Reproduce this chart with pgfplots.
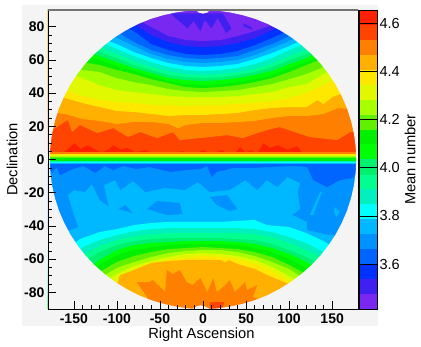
\documentclass[border=0pt]{standalone}
\usepackage{fontspec}
\setmainfont{Liberation Sans}
\usepackage{pgfplots}
\pgfplotsset{compat=1.18}

% palette, top of the colour bar first
\definecolor{c1}{HTML}{FF2000}
\definecolor{c2}{HTML}{FF4400}
\definecolor{c3}{HTML}{FF8000}
\definecolor{c4}{HTML}{FFB000}
\definecolor{c5}{HTML}{FFE800}
\definecolor{c6}{HTML}{E0F800}
\definecolor{c7}{HTML}{A8FF00}
\definecolor{c8}{HTML}{60F000}
\definecolor{c9}{HTML}{00F000}
\definecolor{c10}{HTML}{00FF00}
\definecolor{c11}{HTML}{00F070}
\definecolor{c12}{HTML}{00FF90}
\definecolor{c13}{HTML}{00F0C0}
\definecolor{c14}{HTML}{00FFFF}
\definecolor{c15}{HTML}{00B8FF}
\definecolor{c16}{HTML}{0092FF}
\definecolor{c17}{HTML}{0064FF}
\definecolor{c18}{HTML}{0032FF}
\definecolor{c19}{HTML}{4020F0}
\definecolor{c20}{HTML}{7828F0}
\definecolor{bgc}{HTML}{F4F4F4}

\newcommand{\band}[2]{\addplot[fill=#1,draw=none] coordinates {#2};}

\begin{document}
\begin{tikzpicture}
\path[use as bounding box] (0pt,0pt) rectangle (421pt,347pt);
\fill[bgc] (22pt,21pt) rectangle (378pt,342pt);

\begin{axis}[
    at={(48pt,38pt)}, anchor=south west,
    scale only axis, width=310pt, height=299pt,
    xmin=-180, xmax=180, ymin=-90, ymax=90,
    xtick={-150,-100,...,150}, ytick={-80,-60,...,80},
    minor x tick num=4, minor y tick num=3,
    xtick pos=bottom, ytick pos=left,
    tick align=inside,
    major tick length=8pt, minor tick length=4pt,
    tick style={black, line width=0.6pt},
    axis on top,
    axis line style={line width=0.7pt},
    /pgf/number format/assume math mode=true,
    ticklabel style={font=\fontsize{14}{16}\bfseries\selectfont},
    xticklabel style={yshift=-1.5pt},
    label style={font=\fontsize{14.7}{17}\selectfont},
    xlabel={Right Ascension},
    ylabel={Declination},
    xlabel style={at={(axis description cs:0.495,-0.087)},anchor=center},
    ylabel style={at={(axis description cs:-0.116,0.5)},anchor=center},
]
% northern sky, painted from the equator up
\band{c1}{(-180,3)(180,3)(180,90)(-180,90)}
\band{c2}{(-180,3.5)(-165,3.5)(-158,6)(-149,10)(-142,6.5)(-134,8.7)(-125,6)(-118,4.5)(-110,6)(-104,8.7)(-96,6)(-88,7)(-78,4.5)(-67,5.7)(-55,3.5)(-40,3.5)(-24,5.1)(-15,3.5)(-8,4)(0,5.7)(10,3.5)(22,5.7)(30,3.5)(37,4)(43,7.5)(50,4.5)(55,5.7)(63,4)(70,9.9)(78,7)(87,8.7)(98,6)(110,8)(116,3.5)(180,3.5)(180,90)(-180,90)}
\band{c3}{(-180,17)(-175,17.7)(-157,23.8)(-152,16.5)(-143,20.8)(-123,15.9)(-104,18.9)(-87,13.5)(-73,16.5)(-53,12.9)(-35,16.5)(-27,11.7)(8,13.5)(28,14.7)(46,12.9)(74,17.7)(89,19.5)(124,13.5)(156,11.7)(171,16.5)(180,16.5)(180,90)(-180,90)}
\band{c4}{(-180,28.6)(-160,27.4)(-140,24.4)(-120,23.2)(-100,21.4)(-80,22.6)(-60,22.6)(-40,21.4)(-29,18.9)(-20,20.8)(0,22)(20,22)(40,22.6)(60,23.2)(80,25)(100,26.2)(120,26.2)(140,27.4)(157,31)(180,29.8)(180,90)(-180,90)}
\band{c5}{(-180,40.6)(-160,37)(-140,34)(-120,31.6)(-100,29.2)(-80,28.6)(-60,27.4)(-40,26.2)(-20,26.8)(0,26.8)(20,27.4)(40,28)(60,29.8)(80,31)(100,31.6)(120,31.6)(133,35.8)(140,33.4)(150,37.6)(160,39.4)(180,41.8)(180,90)(-180,90)}
\band{c6}{(-180,47.8)(-160,41.8)(-140,38.2)(-120,35.8)(-100,34.6)(-80,34)(-60,32.8)(-40,32.8)(-20,32.2)(0,32.8)(20,32.8)(40,33.4)(60,34)(80,35.2)(100,37)(120,40)(140,44.8)(160,50.2)(180,53.9)(180,90)(-180,90)}
\band{c7}{(-160,52.7)(-140,49)(-120,44.8)(-100,41.8)(-80,40.6)(-60,39.4)(-40,38.2)(-20,37.6)(0,37.6)(20,37.6)(40,38.2)(60,39.4)(80,40.6)(100,43.6)(120,45.4)(140,51.5)(160,56.9)(180,90)(-180,90)}
\band{c8}{(-160,56.9)(-140,53.9)(-120,52.7)(-100,49)(-80,46.6)(-60,44.8)(-40,42.4)(-20,41.2)(0,40.6)(20,41.2)(40,41.8)(60,43.6)(80,45.4)(100,48.4)(120,51.5)(140,55.7)(160,61.1)(180,90)(-180,90)}
\band{c9}{(-140,58.7)(-120,56.9)(-100,53.9)(-80,51.5)(-60,48.4)(-40,46)(-20,43.6)(0,43)(20,43.6)(40,44.8)(60,46.6)(80,49)(100,52.7)(120,56.9)(140,61.1)(160,65.9)(180,90)(-180,90)}
\band{c10}{(-140,62.3)(-120,59.9)(-100,56.3)(-80,53.3)(-60,50.2)(-40,47.2)(-20,45.4)(0,44.8)(20,45.4)(40,46.6)(60,48.4)(80,50.9)(100,55.1)(120,58.7)(140,63.5)(180,90)(-180,90)}
\band{c11}{(-140,65.9)(-120,62.3)(-100,58.7)(-80,55.1)(-60,52.1)(-40,49)(-20,47.8)(0,47.2)(20,47.8)(40,49)(60,50.9)(80,53.3)(100,57.5)(120,61.1)(140,66.5)(180,90)(-180,90)}
\band{c12}{(-160,68.9)(-140,68.9)(-120,64.7)(-100,61.1)(-80,56.9)(-60,53.9)(-40,50.9)(-20,49.6)(0,49)(20,49.6)(40,50.9)(60,52.7)(80,55.7)(100,59.9)(120,63.5)(140,68.9)(180,90)(-180,90)}
\band{c13}{(-140,68.9)(-120,67.7)(-100,63.5)(-80,59.3)(-60,55.7)(-40,53.3)(-20,51.5)(0,50.9)(20,51.5)(40,52.7)(60,54.5)(80,58.1)(100,62.3)(120,66.5)(140,70.7)(180,90)(-180,90)}
\band{c14}{(-140,77.9)(-120,71.3)(-100,66.5)(-80,62.3)(-60,58.7)(-40,55.7)(-20,53.9)(0,53.3)(20,53.9)(40,55.1)(60,57.5)(80,61.1)(100,65.9)(120,70.1)(180,90)(-180,90)}
\band{c15}{(-120,73.7)(-100,69.5)(-80,64.7)(-60,61.1)(-40,58.1)(-20,56.3)(0,55.7)(20,56.3)(40,57.5)(60,60.5)(80,64.1)(100,68.3)(120,73.1)(180,90)(-180,90)}
\band{c16}{(-120,77.9)(-100,73.1)(-80,68.3)(-60,63.5)(-40,60.5)(-20,58.7)(0,58.1)(20,58.7)(40,59.9)(60,62.9)(80,67.1)(100,71.3)(120,76.1)(180,90)(-180,90)}
\band{c17}{(-120,82.8)(-100,76.7)(-80,70.7)(-60,65.9)(-40,62.9)(-20,61.1)(0,60.5)(20,61.1)(40,62.3)(60,65.9)(80,69.5)(100,74.3)(120,79.1)(180,90)(-180,90)}
\band{c18}{(-100,81.6)(-80,77.3)(-60,69.5)(-40,65.9)(-20,63.5)(0,62.9)(20,63.5)(40,65.3)(60,68.9)(80,73.1)(100,77.9)(120,82.8)(180,90)(-180,90)}
\band{c19}{(-80,81.6)(-60,74.9)(-40,70.7)(-20,68.3)(0,67.7)(20,68.3)(40,70.1)(60,73.1)(80,77.9)(100,82.8)(180,90)(-180,90)}
\band{c20}{(-80,85.2)(-60,79.7)(-40,74.3)(-20,71.9)(0,71.3)(20,71.9)(40,74.3)(60,77.3)(80,81)(100,85.8)(180,90)(-180,90)}
% darker streaks around the pole
\band{c19}{(-38,88)(-18,79)(-11,83.4)(-3,77.3)(2,84)(10,79)(17,85.2)(27,76.1)(33,79)(23,88)}
\band{c19}{(46,82)(55,80)(58,78)(48,80)}

% southern sky, painted from the equator down
\band{c15}{(-180,-3)(180,-3)(180,-90)(-180,-90)}
\band{c16}{(-180,-42.5)(-154,-42.5)(-145,-40.7)(-150,-33.4)(-157,-21.4)(-150,-18.4)(-137,-19.6)(-129,-14.8)(-120,-24.4)(-110,-28)(-115,-15.4)(-102,-12.4)(-96,-18.4)(-81,-13)(-67,-19.6)(-44,-17.2)(-21,-18.4)(-6,-13.6)(8,-19.6)(31,-18.4)(49,-12.4)(63,-18.4)(74,-12.4)(86,-16.6)(98,-10.6)(113,-14.2)(110,-19.6)(113,-29.8)(104,-33.4)(121,-37.6)(121,-42.5)(142,-44.9)(180,-48.5)(180,-3)(-180,-3)}
\band{c16}{(-65,-29.8)(-53,-25)(-27,-26.2)(-24,-32.8)(-42,-33.4)}
\band{c16}{(8,-22.6)(28,-21.4)(40,-29.8)(31,-31)(16,-27.4)}
\band{c16}{(-98,-29.8)(-90,-27.4)(-82,-32.2)}
\band{c15}{(124,-33.4)(136,-19.6)(138,-19.6)(128,-33.4)}
\band{c15}{(153,-28.6)(159,-31.6)(155,-34.6)(152,-31.6)}
\band{c17}{(-180,-3.9)(-175,-8.1)(-170,-4.5)(-166,-9.4)(-151,-5.7)(-139,-3.9)(-125,-8.1)(-114,-3.9)(-104,-6.3)(-93,-3.9)(-77,-5.7)(-62,-4.5)(-38,-7.5)(-19,-6.3)(-3,-5.7)(5,-3.9)(10,-10.6)(16,-7.5)(35,-5.1)(55,-5.1)(78,-4.5)(104,-3.9)(121,-4.5)(128,-12.4)(144,-16.6)(159,-12.4)(174,-11.2)(180,-6.3)(180,-2.8)(-180,-2.8)}
\band{c14}{(-180,-54.5)(-160,-54.5)(-143,-47.9)(-120,-43.7)(-100,-41.9)(-80,-39.5)(-60,-38.2)(-40,-37.6)(-20,-37.6)(0,-37.6)(20,-37.6)(40,-37)(60,-36.4)(74,-39.5)(100,-40.7)(120,-44.3)(140,-49.1)(160,-55.7)(180,-60.5)(180,-90)(-180,-90)}
\band{c13}{(-180,-63.5)(-160,-59.3)(-139,-52.7)(-120,-48.5)(-100,-45.5)(-80,-43.1)(-60,-41.9)(-40,-41.3)(-20,-41.3)(0,-41.3)(20,-41.3)(40,-41.3)(60,-41.9)(80,-43.7)(100,-46.7)(120,-50.3)(140,-55.7)(160,-61.7)(180,-66.5)(180,-90)(-180,-90)}
\band{c12}{(-180,-72)(-160,-63.5)(-139,-57.5)(-120,-52.1)(-100,-48.5)(-80,-46.1)(-60,-44.9)(-40,-44.3)(-20,-44.3)(0,-44.3)(20,-44.3)(40,-44.3)(60,-44.9)(80,-46.7)(100,-50.3)(120,-54.5)(140,-59.3)(160,-66)(180,-72)(180,-90)(-180,-90)}
\band{c11}{(-180,-78)(-160,-70)(-139,-61.7)(-120,-55.7)(-100,-51.5)(-80,-49.1)(-60,-47.9)(-40,-47.3)(-20,-47.3)(0,-47.3)(20,-47.3)(40,-47.9)(60,-48.5)(80,-50.9)(100,-54.5)(120,-58.7)(140,-64)(160,-72)(180,-78)(180,-90)(-180,-90)}
\band{c10}{(-180,-82)(-140,-68)(-120,-60.5)(-100,-54.5)(-80,-51.5)(-60,-50.3)(-40,-49.7)(-20,-49.1)(0,-49.1)(20,-49.1)(40,-49.7)(60,-50.9)(80,-53.3)(100,-56.9)(120,-61.7)(140,-68)(180,-82)(180,-90)(-180,-90)}
\band{c9}{(-180,-84)(-140,-71)(-120,-63.5)(-100,-57.5)(-80,-54.5)(-60,-52.7)(-40,-51.5)(-20,-50.9)(0,-50.9)(20,-50.9)(40,-51.5)(60,-53.3)(80,-55.7)(100,-59.9)(120,-65.3)(140,-72)(180,-84)(180,-90)(-180,-90)}
\band{c8}{(-180,-86)(-140,-75)(-120,-67.7)(-100,-61.7)(-80,-58.1)(-60,-55.7)(-40,-53.9)(-20,-53.3)(0,-52.7)(20,-53.3)(40,-53.9)(60,-55.7)(80,-58.7)(100,-63.5)(120,-69)(140,-76)(180,-86)(180,-90)(-180,-90)}
\band{c7}{(-180,-88)(-140,-78)(-120,-71.4)(-100,-65.3)(-80,-61.7)(-60,-58.7)(-40,-56.3)(-20,-55.1)(0,-54.5)(20,-54.5)(40,-55.7)(60,-58.1)(80,-61.7)(100,-65.9)(120,-72.6)(140,-79)(180,-88)(180,-90)(-180,-90)}
\band{c6}{(-180,-89)(-140,-82)(-120,-75.6)(-100,-69)(-80,-64.1)(-60,-61.1)(-40,-58.7)(-20,-56.9)(0,-56.3)(20,-56.9)(40,-58.1)(60,-60.5)(80,-64.7)(100,-70.2)(120,-75.6)(140,-82)(180,-89)(180,-90)(-180,-90)}
\band{c5}{(-180,-90)(-120,-78)(-100,-73.2)(-80,-67.7)(-60,-63.5)(-40,-60.5)(-20,-59.3)(0,-58.1)(20,-58.7)(40,-59.9)(60,-62.9)(80,-67.1)(100,-73.2)(120,-79)(180,-90)}
\band{c4}{(-180,-90)(-100,-78)(-98,-71.4)(-96,-69.6)(-80,-66.5)(-60,-62.3)(-40,-61.1)(-20,-60.5)(0,-60.5)(20,-60.5)(26,-62)(30,-60.5)(40,-62.9)(60,-65.9)(80,-70.8)(100,-75)(120,-78.6)(180,-90)}
\band{c3}{(-77,-73.8)(-62,-73.8)(-58,-72.6)(-44,-79.8)(-42,-66.5)(-35,-69)(-27,-66.5)(-19,-73.8)(-12,-75.6)(-3,-71.4)(5,-79.8)(12,-71.4)(16,-79.8)(26,-75.6)(31,-72.6)(37,-79.8)(49,-73.8)(51,-78.6)(63,-75.6)(58,-82.8)(68,-84.6)(68,-90)(-65,-90)(-65,-82.8)}
\band{c2}{(8,-85.8)(25,-85.8)(22,-90)(8,-90)}

% the narrow strip along the equator
\band{c3}{(-180,4.5)(180,4.5)(180,3.6)(-180,3.6)}
\band{c4}{(-180,3.6)(180,3.6)(180,3.2)(-180,3.2)}
\band{c5}{(-180,3.2)(180,3.2)(180,2.5)(-180,2.5)}
\band{c6}{(-180,2.5)(180,2.5)(180,1.9)(-180,1.9)}
\band{c7}{(-180,1.9)(180,1.9)(180,1.3)(-180,1.3)}
\band{c8}{(-180,1.3)(180,1.3)(180,0.9)(-180,0.9)}
\band{c9}{(-180,0.9)(180,0.9)(180,-0.7)(-180,-0.7)}
\band{c12}{(-180,-0.7)(180,-0.7)(180,-1.1)(-180,-1.1)}
\band{c13}{(-180,-1.1)(180,-1.1)(180,-1.8)(-180,-1.8)}
\band{c14}{(-180,-1.8)(180,-1.8)(180,-2.4)(-180,-2.4)}
\band{c15}{(-180,-2.4)(180,-2.4)(180,-3)(-180,-3)}

% no exposure at the poles
\band{bgc}{(-8,90)(-5,88.5)(0,87.8)(5,88.5)(8,90)}
\band{bgc}{(-12,-90)(-8,-88.5)(-3,-87.8)(2,-88.5)(8,-90)}

% everything outside the sky ellipse
\band{bgc}{(-180,0)(-180,90)(180,90)(180,-90)(-180,-90)(-180,0)
 (-178,0)(-177.3,-7.8)(-175.3,-15.6)(-171.9,-23.3)(-167.3,-30.8)(-161.3,-38)(-154.2,-45)(-145.8,-51.6)(-136.4,-57.9)(-125.9,-63.6)(-114.4,-68.9)(-102.1,-73.7)(-89,-77.9)(-75.2,-81.6)(-60.9,-84.6)(-46.1,-86.9)(-30.9,-88.6)(-15.5,-89.7)(0,-90)
 (15.5,-89.7)(30.9,-88.6)(46.1,-86.9)(60.9,-84.6)(75.2,-81.6)(89,-77.9)(102.1,-73.7)(114.4,-68.9)(125.9,-63.6)(136.4,-57.9)(145.8,-51.6)(154.2,-45)(161.3,-38)(167.3,-30.8)(171.9,-23.3)(175.3,-15.6)(177.3,-7.8)(178,0)
 (177.3,7.8)(175.3,15.6)(171.9,23.3)(167.3,30.8)(161.3,38)(154.2,45)(145.8,51.6)(136.4,57.9)(125.9,63.6)(114.4,68.9)(102.1,73.7)(89,77.9)(75.2,81.6)(60.9,84.6)(46.1,86.9)(30.9,88.6)(15.5,89.7)(0,90)
 (-15.5,89.7)(-30.9,88.6)(-46.1,86.9)(-60.9,84.6)(-75.2,81.6)(-89,77.9)(-102.1,73.7)(-114.4,68.9)(-125.9,63.6)(-136.4,57.9)(-145.8,51.6)(-154.2,45)(-161.3,38)(-167.3,30.8)(-171.9,23.3)(-175.3,15.6)(-177.3,7.8)(-178,0)(-180,0)}
\end{axis}

% colour bar
\begin{axis}[
    at={(359.5pt,38pt)}, anchor=south west,
    scale only axis, width=17.5pt, height=299pt,
    xmin=0, xmax=1, ymin=3.413, ymax=4.656,
    xtick=\empty, ytick={3.6,3.8,4.0,4.2,4.4,4.6},
    yticklabel pos=right,
    tick align=inside,
    major tick length=9pt,
    tick style={black, line width=0.6pt},
    axis on top,
    axis line style={line width=0.5pt},
    /pgf/number format/assume math mode=true,
    /pgf/number format/fixed, /pgf/number format/fixed zerofill, /pgf/number format/precision=1,
    ticklabel style={font=\fontsize{14.5}{17}\selectfont},
    yticklabel style={xshift=-1pt},
    ylabel={Mean number},
    label style={font=\fontsize{14.7}{17}\selectfont},
    ylabel style={at={(axis description cs:2.886,0.5)},anchor=center},
]
\band{c1}{(0,4.594)(1,4.594)(1,4.656)(0,4.656)}
\band{c2}{(0,4.532)(1,4.532)(1,4.594)(0,4.594)}
\band{c3}{(0,4.470)(1,4.470)(1,4.532)(0,4.532)}
\band{c4}{(0,4.408)(1,4.408)(1,4.470)(0,4.470)}
\band{c5}{(0,4.346)(1,4.346)(1,4.408)(0,4.408)}
\band{c6}{(0,4.283)(1,4.283)(1,4.346)(0,4.346)}
\band{c7}{(0,4.221)(1,4.221)(1,4.283)(0,4.283)}
\band{c8}{(0,4.159)(1,4.159)(1,4.221)(0,4.221)}
\band{c9}{(0,4.097)(1,4.097)(1,4.159)(0,4.159)}
\band{c10}{(0,4.035)(1,4.035)(1,4.097)(0,4.097)}
\band{c11}{(0,3.972)(1,3.972)(1,4.035)(0,4.035)}
\band{c12}{(0,3.910)(1,3.910)(1,3.972)(0,3.972)}
\band{c13}{(0,3.848)(1,3.848)(1,3.910)(0,3.910)}
\band{c14}{(0,3.786)(1,3.786)(1,3.848)(0,3.848)}
\band{c15}{(0,3.724)(1,3.724)(1,3.786)(0,3.786)}
\band{c16}{(0,3.662)(1,3.662)(1,3.724)(0,3.724)}
\band{c17}{(0,3.599)(1,3.599)(1,3.662)(0,3.662)}
\band{c18}{(0,3.537)(1,3.537)(1,3.599)(0,3.599)}
\band{c19}{(0,3.475)(1,3.475)(1,3.537)(0,3.537)}
\band{c20}{(0,3.413)(1,3.413)(1,3.475)(0,3.475)}
\end{axis}
\draw[black!55, line width=1.3pt] (48pt,337pt) -- (358pt,337pt);
\end{tikzpicture}
\end{document}
